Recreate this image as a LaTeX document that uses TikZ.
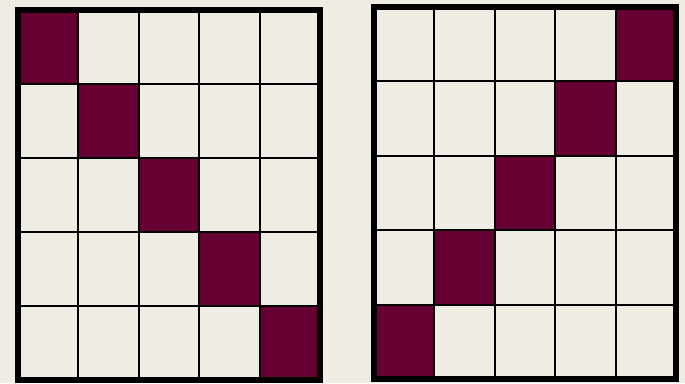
\documentclass[tikz,border=0pt]{standalone}
\definecolor{paper}{HTML}{EFEDE3}
\definecolor{maroon}{HTML}{660033}
\tikzset{
  cellline/.style={line width=2pt, draw=black},
  frame/.style={line width=6pt, draw=black},
  filled/.style={fill=maroon},
}
\begin{document}
\begin{tikzpicture}[x=1pt,y=-1pt]
\useasboundingbox[fill=paper] (0,0) rectangle (685,383);
% left grid: x 18..320, y 10..380
\foreach \i in {0,...,4} {
  \fill[filled] ({18+\i*60.4},{10+\i*74}) rectangle ({18+(\i+1)*60.4},{10+(\i+1)*74});
}
\foreach \k in {1,...,4} {
  \draw[cellline] ({18+\k*60.4},10) -- ({18+\k*60.4},380);
  \draw[cellline] (18,{10+\k*74}) -- (320,{10+\k*74});
}
\draw[frame] (18,10) rectangle (320,380);
% right grid: x 373.7..676, y 7..379
\foreach \i in {0,...,4} {
  \fill[filled] ({373.7+(4-\i)*60.46},{7+\i*74.4}) rectangle ({373.7+(5-\i)*60.46},{7+(\i+1)*74.4});
}
\foreach \k in {1,...,4} {
  \draw[cellline] ({373.7+\k*60.46},7) -- ({373.7+\k*60.46},379);
  \draw[cellline] (373.7,{7+\k*74.4}) -- (676,{7+\k*74.4});
}
\draw[frame] (373.7,7) rectangle (676,379);
\end{tikzpicture}
\end{document}
